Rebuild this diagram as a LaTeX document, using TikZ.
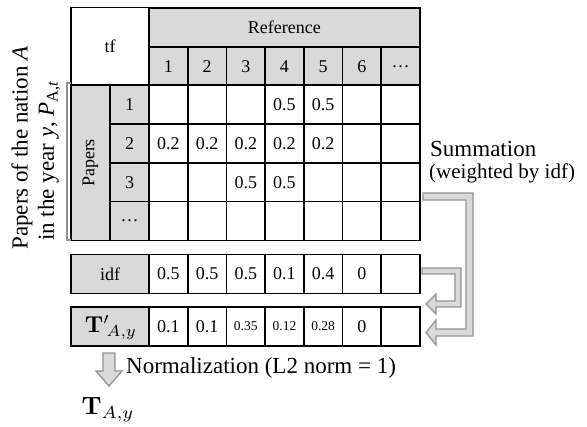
\documentclass[tikz,border=0pt]{standalone}
\usepackage[no-math]{fontspec}
\setmainfont{Liberation Serif}
\begin{document}
\begin{tikzpicture}[x=1pt,y=-1pt,
  cell/.style={draw, line width=1.6pt, minimum width=38.7pt, minimum height=38.8pt,
    inner sep=0pt, outer sep=0pt, font=\fontsize{18}{20}\selectfont},
  gcell/.style={cell, fill=gray!30},
  small/.style={font=\fontsize{13.5}{15}\selectfont},
  lbl/.style={inner sep=0pt, font=\fontsize{23}{25}\selectfont},
  mathlbl/.style={inner sep=0pt, scale=2.5, transform shape},
  arrowshape/.style={fill=gray!30, draw=gray!85, line width=1.3pt, line join=miter},
  bracket/.style={draw=gray!85, line width=1.4pt}]
\useasboundingbox (0,0) rectangle (587,427);

% header
\node[cell, minimum width=78pt, minimum height=77.6pt] (tf) at (110,46.4) {tf};
\node[gcell, minimum width=270.9pt] (ref) at (284.45,27.4) {Reference};
\foreach \t [count=\c] in {1,2,3,4,5,6,\dots}
  \node[gcell] (h\c) at ({149+38.7*(\c-0.5)},66.2) {\t};

% papers column
\node[gcell, minimum width=155.2pt, minimum height=39pt, rotate=90] (papers) at (90.5,163) {Papers};
\foreach \t [count=\r] in {1,2,3,\dots}
  \node[gcell] (p\r) at (129.5,{104.6+38.8*(\r-1)}) {\t};

% data
\foreach \v [count=\c] in {{},{},{},0.5,0.5,{},{}}
  \node[cell] (da\c) at ({149+38.7*(\c-0.5)},104.6) {\v};
\foreach \v [count=\c] in {0.2,0.2,0.2,0.2,0.2,{},{}}
  \node[cell] (db\c) at ({149+38.7*(\c-0.5)},143.4) {\v};
\foreach \v [count=\c] in {{},{},0.5,0.5,{},{},{}}
  \node[cell] (dc\c) at ({149+38.7*(\c-0.5)},182.2) {\v};
\foreach \c in {1,...,7}
  \node[cell] (dd\c) at ({149+38.7*(\c-0.5)},221.0) {};

% idf row
\node[gcell, minimum width=78pt] (idf) at (110,274) {idf};
\foreach \v [count=\c] in {0.5,0.5,0.5,0.1,0.4,0,{}}
  \node[cell] (i\c) at ({149+38.7*(\c-0.5)},274) {\v};

% T' row
\node[gcell, minimum width=78pt] (tp) at (110,326.5) {};
\node[mathlbl, scale=0.92] (tpl) at (111,327.5) {$\mathbf{T}'{}_{\!A,y}$};
\foreach \c in {1,...,7}
  \node[cell] (t\c) at ({149+38.7*(\c-0.5)},326.5) {};
\node[font=\fontsize{18}{20}\selectfont] (tv1) at (t1) {0.1};
\node[font=\fontsize{18}{20}\selectfont] (tv2) at (t2) {0.1};
\node[small] (tv3) at (t3) {0.35};
\node[small] (tv4) at (t4) {0.12};
\node[small] (tv5) at (t5) {0.28};
\node[font=\fontsize{18}{20}\selectfont] (tv6) at (t6) {0};

% left label and bracket
\node[lbl, rotate=90] (pl1) at (22,148) {Papers of the nation \textit{A}};
\node[lbl, rotate=90] (pl2) at (49,161) {in the year \textit{y}, \textit{P}\textsubscript{A,\textit{t}}};
\draw[bracket] (71,83) -- (67,83) -- (67,240) -- (71,240);

% summation label
\node[lbl, anchor=west] (summ) at (430,149) {Summation};
\node[lbl, anchor=west, font=\fontsize{21}{23}\selectfont] (wt) at (429,173) {(weighted by idf)};

% big arrow
\draw[arrowshape] (423,193) -- (473,193) -- (473,336) -- (436,336) -- (436,345)
  -- (426,332.5) -- (436,320) -- (436,329) -- (466,329) -- (466,200) -- (423,200) -- cycle;
% small arrow
\draw[arrowshape] (422,268) -- (461,268) -- (461,307) -- (436,307) -- (436,314)
  -- (426,304) -- (436,294) -- (436,301) -- (455,301) -- (455,274) -- (422,274) -- cycle;
% down arrow
\draw[arrowshape] (103,353) -- (115,353) -- (115,371) -- (122,371) -- (109,386)
  -- (96,371) -- (103,371) -- cycle;

\node[lbl, anchor=west] (norm) at (126,368) {Normalization (L2 norm = 1)};
\node[mathlbl, anchor=west] (T) at (81,410) {$\mathbf{T}_{A,y}$};
\end{tikzpicture}
\end{document}
